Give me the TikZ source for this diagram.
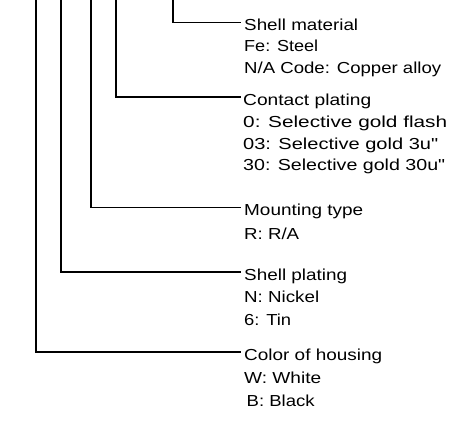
\documentclass[tikz,border=0pt]{standalone}
\usepackage{graphicx}
\usepackage{fontspec}
\newfontfamily\lblfont{Liberation Sans}
\newcommand{\fitw}[2]{\resizebox{#1bp}{\height}{#2}}
\begin{document}
\begin{tikzpicture}[x=1bp,y=-1bp,
  lead/.style={line width=1.7bp,line join=miter},
  lbl/.style={anchor=base west,inner sep=0pt,font=\lblfont\fontsize{16}{19}\selectfont}]
\useasboundingbox (0,0) rectangle (451,422);
% top ends of the leads
\coordinate (p1) at (173,0);
\coordinate (p2) at (116,0);
\coordinate (p3) at (91,0);
\coordinate (p4) at (61,0);
\coordinate (p5) at (36,0);
% group 1
\node[lbl] (t1)  at (244,30.5) {\fitw{114}{Shell material}};
\node[lbl] (t1a) at (244,51.5) {\fitw{74}{Fe: Steel}};
\node[lbl] (t1b) at (244,73) {\fitw{197}{N/A Code: Copper alloy}};
% group 2
\node[lbl] (t2)  at (243,105) {\fitw{128}{Contact plating}};
\node[lbl] (t2a) at (243,127) {\fitw{204}{0: Selective gold flash}};
\node[lbl] (t2b) at (243,149) {\fitw{195}{03: Selective gold 3u"}};
\node[lbl] (t2c) at (243,170.5) {\fitw{202}{30: Selective gold 30u"}};
% group 3
\node[lbl] (t3)  at (244,215.5) {\fitw{119}{Mounting type}};
\node[lbl] (t3a) at (244,239) {\fitw{55}{R: R/A}};
% group 4
\node[lbl] (t4)  at (244,280) {\fitw{103}{Shell plating}};
\node[lbl] (t4a) at (244,302) {\fitw{75}{N: Nickel}};
\node[lbl] (t4b) at (244,325) {\fitw{47}{6: Tin}};
% group 5
\node[lbl] (t5)  at (244,360) {\fitw{138}{Color of housing}};
\node[lbl] (t5a) at (244,383) {\fitw{77}{W: White}};
\node[lbl] (t5b) at (246.5,406) {\fitw{68}{B: Black}};
% leads
\draw[lead] (p1) |- ([xshift=-3.5bp,yshift=8bp]t1.base west);
\draw[lead] (p2) |- ([xshift=-2.5bp,yshift=8bp]t2.base west);
\draw[lead] (p3) |- ([xshift=-3.5bp,yshift=8bp]t3.base west);
\draw[lead] (p4) |- ([xshift=-3.5bp,yshift=8bp]t4.base west);
\draw[lead] (p5) |- ([xshift=-3.5bp,yshift=8bp]t5.base west);
\end{tikzpicture}
\end{document}
